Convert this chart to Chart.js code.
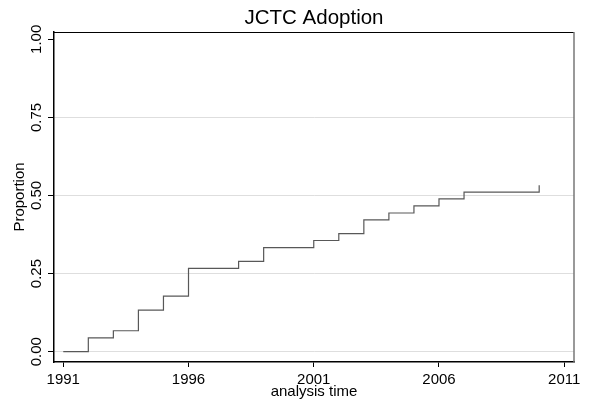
<!DOCTYPE html>
<html>
<head>
<meta charset="utf-8">
<script src="https://cdn.jsdelivr.net/npm/chart.js@4"></script>
<style>
  html, body { margin: 0; padding: 0; background: #fff; }
  #wrap { width: 592px; height: 407px; }
</style>
</head>
<body>
<div id="wrap"><canvas id="km" width="592" height="407"></canvas></div>
<script>
// analysis time (years) and cumulative proportion adopting
const years = [1991, 1992, 1993, 1994, 1995, 1996, 1998, 1999, 2001, 2002, 2003, 2004, 2005, 2006, 2007, 2010];
const proportion = [0, 0.044, 0.067, 0.133, 0.178, 0.267, 0.289, 0.333, 0.356, 0.378, 0.422, 0.444, 0.467, 0.489, 0.511, 0.533];
const xTicks = [1991, 1996, 2001, 2006, 2011];
const yTicks = [0, 0.25, 0.5, 0.75, 1];
const yTickLabels = ['0.00', '0.25', '0.50', '0.75', '1.00'];

const FONT = '"Liberation Sans", Arial, Helvetica, sans-serif';

// title + rotated y tick labels + frame (top/right), Stata style
const stataBits = {
  id: 'stataBits',
  afterDraw(chart) {
    const {ctx, chartArea: a, scales} = chart;
    ctx.save();
    // frame top / right
    ctx.strokeStyle = '#000';
    ctx.lineWidth = 1;
    ctx.beginPath();
    ctx.moveTo(a.left, a.top + 0.5);
    ctx.lineTo(a.right, a.top + 0.5);
    ctx.stroke();
    ctx.strokeStyle = '#777';
    ctx.lineWidth = 1.5;
    ctx.beginPath();
    ctx.moveTo(a.right, a.top);
    ctx.lineTo(a.right, a.bottom);
    ctx.stroke();

    // title
    ctx.fillStyle = '#000';
    ctx.font = '20.5px ' + FONT;
    ctx.textAlign = 'center';
    ctx.textBaseline = 'alphabetic';
    ctx.fillText('JCTC Adoption', (a.left + a.right) / 2, 24);

    // y tick labels, rotated
    const y = scales.y;
    ctx.font = '15px ' + FONT;
    yTicks.forEach((v, i) => {
      const py = y.getPixelForValue(v);
      ctx.save();
      ctx.translate(41, py);
      ctx.rotate(-Math.PI / 2);
      ctx.textAlign = 'center';
      ctx.textBaseline = 'alphabetic';
      ctx.fillText(yTickLabels[i], 0, 0);
      ctx.restore();
    });
    ctx.restore();
  }
};

new Chart(document.getElementById('km'), {
  type: 'line',
  data: {
    datasets: [{
      data: years.map((t, i) => ({x: t, y: proportion[i]})),
      stepped: 'before',
      borderColor: '#585858',
      borderWidth: 1.2,
      pointRadius: 0,
      fill: false
    }]
  },
  options: {
    responsive: false,
    animation: false,
    layout: { padding: { top: 32, right: 18, left: 0, bottom: 0 } },
    plugins: {
      legend: { display: false },
      tooltip: { enabled: false },
      title: { display: false }
    },
    scales: {
      x: {
        type: 'linear',
        min: 1990.63,
        max: 2011.39,
        afterBuildTicks: s => { s.ticks = xTicks.map(v => ({value: v})); },
        afterFit: s => { s.height = 45; },
        grid: { drawOnChartArea: false, drawTicks: true, tickLength: 5, tickColor: '#000', tickWidth: 1 },
        border: { display: true, color: '#000', width: 1.5 },
        ticks: {
          color: '#000',
          font: { family: FONT, size: 15 },
          padding: 4,
          maxRotation: 0,
          callback: v => String(v)
        },
        title: {
          display: true,
          text: 'analysis time',
          color: '#000',
          font: { family: FONT, size: 15, lineHeight: 1 },
          padding: { top: 0, bottom: 8 }
        }
      },
      y: {
        type: 'linear',
        min: -0.033,
        max: 1.0234,
        afterBuildTicks: s => { s.ticks = yTicks.map(v => ({value: v})); },
        afterFit: s => { s.width = 54; },
        grid: {
          color: c => (c.tick && c.tick.value === 1) ? 'rgba(0,0,0,0)' : '#dedede',
          lineWidth: 1,
          drawTicks: true,
          tickLength: 6,
          tickColor: '#000',
          tickWidth: 1
        },
        border: { display: true, color: '#000', width: 1.5 },
        ticks: { display: false },
        title: {
          display: true,
          text: 'Proportion',
          color: '#000',
          font: { family: FONT, size: 15, lineHeight: 1 },
          padding: { top: 12, bottom: 0 }
        }
      }
    }
  },
  plugins: [stataBits]
});
</script>
</body>
</html>
